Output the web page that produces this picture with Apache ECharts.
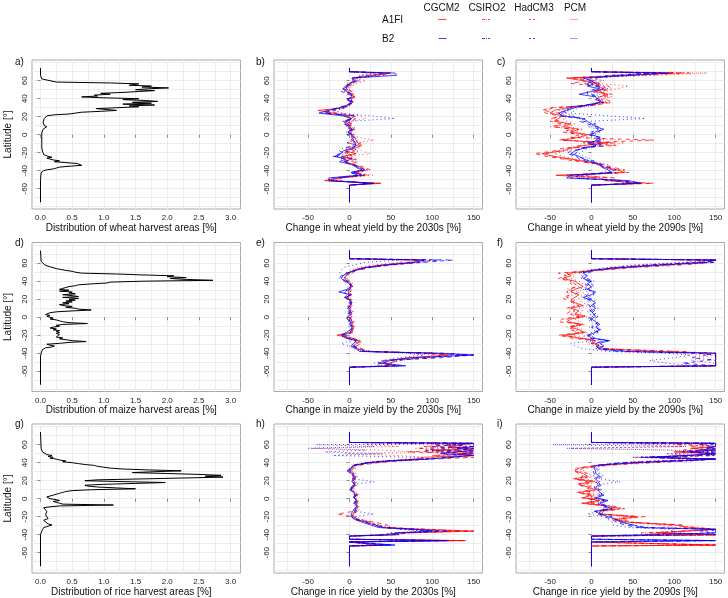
<!DOCTYPE html>
<html><head><meta charset="utf-8">
<script src="https://cdn.jsdelivr.net/npm/echarts@6/dist/echarts.min.js"></script>
<style>html,body{margin:0;padding:0;background:#fff}#c{width:728px;height:598px}</style>
</head><body><div id="c"></div>
<script>
// ---------- tick / grid values ----------
const latTicks = [-60, -40, -20, 0, 20, 40, 60];
const latGridLines = [-80, -70, -60, -50, -40, -30, -20, -10, 0, 10, 20, 30, 40, 50, 60, 70, 80];
const distTicks = [0, 0.5, 1, 1.5, 2, 2.5, 3];
const distGridLines = [0, 0.25, 0.5, 0.75, 1, 1.25, 1.5, 1.75, 2, 2.25, 2.5, 2.75, 3];
const chgTicks = [-50, 0, 50, 100, 150];
const chgGridLines = [-75, -50, -25, 0, 25, 50, 75, 100, 125, 150];

const models = ['CGCM2', 'CSIRO2', 'HadCM3', 'PCM'];
const scenarios = ['A1FI', 'B2'];

// ---------- harvest area distributions ----------
const latDistWheat = [74, 66, 62, 60, 58.5, 57.5, 56.5, 55, 54, 53, 52, 51, 50, 49, 48, 47, 46, 45, 44, 43, 42, 41, 40, 39, 38, 37, 36, 35, 34, 33, 32, 31, 30, 29, 28, 27, 26, 25, 24, 23, 22, 21, 20, 18, 16, 14, 12, 10, 9, 8, 7, 6, 4, 2, 0, -2, -4, -6, -8, -10, -12, -14, -16, -18, -20, -22, -23, -24, -25, -26, -27, -28, -29, -30, -31, -32, -33, -34, -35, -36, -37, -38, -39, -40, -41, -42, -44, -50, -60, -75];
const wheatDist = [0, 0, 0.02, 0.05, 0.25, 1.1, 1.55, 1.4, 1.75, 1.6, 2.02, 1.7, 1.5, 1.8, 1.55, 1.3, 0.95, 1.1, 0.85, 0.9, 0.65, 1.0, 1.55, 1.3, 1.65, 1.85, 1.45, 1.75, 1.3, 1.8, 1.4, 1.55, 1.2, 0.88, 1.05, 1.2, 0.95, 0.65, 0.55, 0.45, 0.2, 0.1, 0.08, 0.06, 0.05, 0.04, 0.05, 0.06, 0.1, 0.12, 0.07, 0.04, 0.03, 0.02, 0.02, 0.02, 0.02, 0.02, 0.02, 0.02, 0.02, 0.02, 0.03, 0.03, 0.03, 0.05, 0.08, 0.12, 0.18, 0.1, 0.15, 0.2, 0.3, 0.22, 0.4, 0.58, 0.55, 0.65, 0.45, 0.3, 0.25, 0.2, 0.1, 0.05, 0.02, 0.01, 0.01, 0, 0, 0];

const latDistMaize = [74, 62, 60, 58, 56, 54, 52, 51, 50, 49, 48, 47, 46, 45, 44, 43, 42, 41, 40, 39, 38, 37, 36, 35, 34, 33, 32, 31, 30, 29, 28, 27, 26, 25, 24, 23, 22, 21, 20, 19, 18, 17, 16, 15, 14, 13, 12, 11, 10, 9, 8, 7, 6, 5, 4, 3, 2, 1, 0, -1, -2, -3, -4, -5, -6, -7, -8, -9, -10, -11, -12, -13, -14, -15, -16, -17, -18, -19, -20, -21, -22, -23, -24, -25, -26, -27, -28, -29, -30, -31, -32, -33, -34, -35, -36, -38, -40, -44, -75];
const maizeDist = [0, 0.01, 0.03, 0.07, 0.15, 0.25, 0.4, 0.5, 0.55, 0.65, 1.2, 1.6, 2.1, 2.0, 2.3, 2.05, 2.3, 2.72, 1.6, 1.1, 1.05, 0.8, 0.6, 0.55, 0.45, 0.4, 0.35, 0.3, 0.45, 0.3, 0.5, 0.45, 0.55, 0.35, 0.5, 0.6, 0.35, 0.6, 0.45, 0.55, 0.4, 0.5, 0.35, 0.45, 0.3, 0.35, 0.5, 0.4, 0.55, 0.6, 0.8, 0.5, 0.25, 0.15, 0.12, 0.08, 0.15, 0.1, 0.15, 0.2, 0.15, 0.25, 0.3, 0.35, 0.45, 0.74, 0.35, 0.25, 0.3, 0.2, 0.15, 0.25, 0.2, 0.3, 0.25, 0.3, 0.25, 0.3, 0.28, 0.3, 0.25, 0.35, 0.3, 0.4, 0.5, 0.72, 0.45, 0.3, 0.1, 0.15, 0.22, 0.18, 0.08, 0.05, 0.03, 0.02, 0.01, 0, 0];

const latDistRice = [74, 56, 52, 50, 49, 48, 47, 46, 45, 44, 43, 42, 41, 40, 39, 38, 37, 36, 35, 34, 33, 32, 31, 30, 29, 28, 27, 26, 25, 24, 23, 22, 21, 20, 19, 18, 17, 16, 15, 14, 13, 12, 11, 10, 9, 8, 7, 6, 5, 4, 3, 2, 1, 0, -1, -2, -3, -4, -5, -6, -7, -8, -9, -10, -12, -14, -16, -18, -20, -22, -24, -26, -28, -29, -30, -31, -32, -34, -36, -38, -40, -75];
const riceDist = [0, 0.01, 0.03, 0.05, 0.1, 0.18, 0.12, 0.2, 0.15, 0.25, 0.3, 0.4, 0.35, 0.5, 0.6, 0.7, 0.85, 0.9, 1.0, 1.1, 1.3, 1.7, 2.22, 1.8, 1.45, 2.0, 2.5, 2.85, 2.6, 2.88, 2.9, 1.6, 0.9, 0.7, 1.3, 1.97, 1.5, 1.0, 0.7, 0.75, 0.9, 1.2, 1.5, 0.8, 0.5, 0.4, 0.35, 0.3, 0.25, 0.2, 0.15, 0.1, 0.08, 0.15, 0.25, 0.3, 0.2, 0.25, 0.3, 0.35, 1.15, 0.3, 0.15, 0.05, 0.08, 0.1, 0.12, 0.08, 0.1, 0.12, 0.05, 0.08, 0.12, 0.18, 0.15, 0.1, 0.05, 0.03, 0.02, 0.01, 0, 0];

// ---------- latitude grids of the yield-change profiles ----------
const latWheat = [74, 70, 68.5, 66, 63, 60, 57, 54, 51, 48, 45, 42, 39, 36, 33, 30, 27, 24, 21, 18, 15, 12, 9, 6, 3, 0, -3, -6, -9, -12, -15, -18, -21, -24, -27, -30, -33, -36, -39, -42, -45, -48, -51, -54, -56, -75];
const latMaize = [74, 65, 63.5, 61, 58, 55, 52, 49, 46, 43, 40, 37, 34, 31, 28, 25, 22, 19, 16, 13, 10, 7, 4, 1, -2, -5, -8, -11, -14, -17, -20, -23, -26, -29, -32, -35, -38, -40, -42, -45, -48, -51, -54, -55.5, -75];
const latRice = [74, 62.5, 61.5, 60, 58, 56, 54, 52, 50, 48, 46, 44, 42, 40, 37, 34, 31, 28, 25, 22, 19, 16, 13, 10, 7, 4, 1, -2, -5, -8, -11, -14, -17, -20, -23, -26, -29, -32, -34, -36, -38, -40, -41.5, -43, -45, -46.5, -48, -50, -51.5, -52.5, -75];

// ---------- wheat, 2030s ----------
const wheat30_A1FI_CGCM2 = [0, 0, 50, 30, 5, 8, 2, -3, -6, -2, 3, 5, -2, 4, -1, -6, -38, -20, -5, 3, -4, 2, -2, 4, 1, 3, 6, 8, 10, 15, 6, -5, 8, -8, 2, -6, 4, 12, 18, 6, 15, -12, -30, 38, 0, 0];
const wheat30_A1FI_CSIRO2 = [0, 0, 35, 45, 8, 12, -4, 2, -8, 0, 5, 2, 4, 1, 3, -10, -25, -30, 2, 8, 2, -6, 3, 6, -3, 5, 4, 2, 14, 8, -5, 10, -4, 5, -10, 8, 2, 15, 22, 10, 20, -8, -22, 30, 0, 0];
const wheat30_A1FI_HadCM3 = [0, 0, 45, 20, 2, 6, 5, -2, -4, 3, -3, 6, 0, 6, -4, -8, -32, -15, 8, 0, -6, 5, -4, 2, 4, -2, 8, 5, -2, 12, 10, 4, -6, -10, 8, -4, 6, 18, 25, 4, 22, -15, -28, 35, 0, 0];
const wheat30_A1FI_PCM = [0, 0, 30, 15, 10, 20, 8, 4, -2, 5, 2, 8, 3, 2, 0, -4, -20, -10, 12, 20, 3, -2, 5, 8, 2, 6, 10, 30, 8, 6, 12, 15, 25, -5, 10, 4, 8, 10, 15, 8, 28, -10, -18, 25, 0, 0];
const wheat30_B2_CGCM2 = [0, 0, 55, 57, 4, 6, 0, -5, -8, -4, 2, 3, -3, 2, -3, -12, -25, -37, -8, 2, -5, -2, 0, 3, -2, 2, 3, 5, 6, 8, 2, -8, -10, -18, -5, -12, 2, 8, 15, 2, 10, -25, -25, 30, 0, 0];
const wheat30_B2_CSIRO2 = [0, 0, 40, 35, 6, 10, -2, -3, -5, -6, 4, 1, 2, 3, 1, -8, -18, -28, 4, 6, -3, -8, 2, 5, -4, 4, 2, 4, 8, 5, -8, -12, -6, -15, -8, -5, 5, 10, 18, 6, 14, -18, -20, 25, 0, 0];
const wheat30_B2_HadCM3 = [0, 0, 48, 25, 3, 4, 3, -6, -3, -10, 0, 4, -5, 5, -2, -15, -22, -30, 6, 4, -8, 0, -5, 1, 2, -3, 5, 2, -3, 10, 4, 0, -12, -20, 3, -8, 3, 12, 20, 0, 16, -20, -24, 28, 0, 0];
const wheat30_B2_PCM = [0, 0, 28, 12, 8, 14, 5, 0, -4, 2, 1, 6, 1, 4, -1, -6, -15, -12, 25, 55, 2, -4, 3, 6, 0, 5, 6, 10, 5, 4, 5, 10, 8, -10, 6, 10, 6, 8, 12, 5, 20, -12, -15, 20, 0, 0];

// ---------- wheat, 2090s ----------
const wheat90_A1FI_CGCM2 = [0, 0, 100, 40, -30, -10, 10, 5, 15, 5, 20, 10, 5, 15, -5, -30, -45, -50, -35, -40, -45, -25, -35, -15, -25, -5, -15, -35, 20, -10, -25, -35, -60, -45, -25, -5, 10, 15, 30, 40, -43, 10, 20, 60, 0, 0];
const wheat90_A1FI_CSIRO2 = [0, 0, 120, 60, -20, 5, -5, 20, 25, 10, 15, 20, 12, 20, 0, -45, -58, -40, -30, -50, -38, -30, -50, -20, -30, -10, -20, -40, 30, -15, -30, -40, -55, -50, -30, -10, 5, 20, 35, 45, -30, 20, 15, 70, 0, 0];
const wheat90_A1FI_HadCM3 = [0, 0, 110, 30, -25, -5, -25, 10, 20, 0, 25, 15, 18, 25, 5, -50, -60, -55, -40, -45, -50, -35, -45, -25, -35, -15, -25, 75, -10, 30, -35, -45, -69, -55, -35, -15, 15, 25, 40, 35, -20, 30, 25, 75, 0, 0];
const wheat90_A1FI_PCM = [0, 0, 140, 80, -10, 15, 5, 45, 30, 15, 10, 25, 8, 18, 8, -25, -40, -30, -20, -35, -30, -20, -30, -10, -20, 0, -10, 30, 40, 20, -20, -30, -45, -35, -20, 0, 20, 18, 25, 30, -10, 25, 30, 50, 0, 0];
const wheat90_B2_CGCM2 = [0, 0, 93, 50, -10, 0, 5, -5, 10, 0, -15, 5, 8, 10, -5, -20, -30, -40, -35, -10, -5, 0, 5, 15, 5, 0, 10, 10, -5, 5, -10, -20, -25, -15, -10, 0, 10, 12, 20, 25, -25, -30, 45, 60, 0, 0];
const wheat90_B2_CSIRO2 = [0, 0, 70, 40, 5, 8, -10, 5, 15, 5, 0, 10, 5, 15, 0, -25, -35, -30, -25, -15, -10, 5, 0, 10, 0, 5, 5, 15, 0, 10, -15, -15, -20, -20, -5, 5, 8, 15, 25, 30, -15, -20, 35, 50, 0, 0];
const wheat90_B2_HadCM3 = [0, 0, 80, 25, 0, -5, 0, 10, 5, -5, -5, 8, 10, 12, -8, -30, -28, -35, -40, -8, -15, -5, 8, 12, 8, -5, 12, 5, 5, 15, -8, -25, -30, -18, -15, -5, 12, 20, 30, 20, -30, -25, 40, 55, 0, 0];
const wheat90_B2_PCM = [0, 0, 60, 20, 8, 12, 5, 15, 20, 10, 5, 12, 8, 10, 2, -15, -20, -25, 20, 65, 0, 5, -5, 8, 10, 2, 8, 12, 10, 8, -5, -10, -15, -10, 0, 5, 15, 18, 22, 15, -10, -15, 30, 45, 0, 0];

// ---------- maize, 2030s ----------
const maize30_A1FI_CGCM2 = [0, 0, 90, 75, 40, 15, 5, 0, -4, -6, -3, 2, 3, 0, -2, 3, -4, 2, 1, 3, 0, 2, -1, 3, 0, 4, 2, 5, 3, 0, -15, 3, 12, 8, 5, 10, 15, 100, 120, 70, 50, 40, 55, 0, 0];
const maize30_A1FI_CSIRO2 = [0, 0, 100, 80, 50, 25, 8, 3, -2, -3, 0, 5, 1, 2, 1, 0, -2, 4, 3, 1, 2, 0, 3, 1, 2, 2, 4, 3, 6, 2, -8, 0, 15, 10, 3, 12, 20, 120, 150, 80, 60, 45, 65, 0, 0];
const maize30_A1FI_HadCM3 = [0, 0, 85, 70, 35, 20, 10, -2, -6, -8, -5, 0, 5, 3, 0, -3, -6, 0, 2, -2, 3, 5, 0, -2, 3, 6, 0, 8, 2, 5, -12, -3, 10, 15, 8, 15, 25, 90, 110, 100, 40, 35, 50, 0, 0];
const maize30_A1FI_PCM = [0, 0, 70, 60, 30, 10, 2, -5, -8, -4, -2, 3, 0, -2, 2, 1, 0, 3, 0, 2, -2, 1, 2, 0, -3, 1, 3, 0, 4, 3, -5, 2, 8, 5, 0, 8, 30, 80, 100, 90, 60, 50, 45, 0, 0];
const maize30_B2_CGCM2 = [0, 0, 90, 80, 45, 18, 6, -3, -8, -10, -5, 0, 2, -3, -13, 2, -5, 0, 3, 0, -2, 1, 2, -2, -3, 2, 0, 3, 1, -4, -10, -5, 8, 5, 2, 8, 12, 110, 150, 75, 45, 35, 68, 0, 0];
const maize30_B2_CSIRO2 = [0, 0, 110, 85, 40, 20, 4, 0, -5, -7, -2, 2, 0, 1, -5, 0, -3, 2, 0, 2, 1, -1, 0, 2, -1, 0, 3, 1, 4, 0, -6, -2, 10, 6, 4, 10, 18, 100, 140, 90, 55, 50, 60, 0, 0];
const maize30_B2_HadCM3 = [0, 0, 125, 90, 50, 22, 8, -4, -10, -12, -6, -2, 4, 0, -8, -2, -6, 1, 2, -3, 0, 3, -2, 0, 2, 3, 1, 4, 0, 2, -8, -4, 6, 10, 6, 12, 22, 95, 150, 110, 50, 40, 55, 0, 0];
const maize30_B2_PCM = [0, 0, 60, 20, 5, -8, -10, -12, -8, -5, -3, 1, -2, -4, -3, 0, -2, 2, -1, 1, -3, 0, 1, -2, -4, 0, 2, -1, 3, 1, -4, -2, 4, -10, -2, 5, 25, 70, 90, 60, 40, 30, 40, 0, 0];

// ---------- maize, 2090s ----------
const maize90_A1FI_CGCM2 = [0, 0, 150, 140, 90, 40, 5, -30, -25, -35, -20, -15, -10, -20, -25, -15, -20, -25, -20, -10, -25, -15, -20, -8, -25, -30, -12, -25, -15, -8, -35, -15, 5, 2, 10, 15, 80, 150, 150, 150, 150, 150, 150, 0, 0];
const maize90_A1FI_CSIRO2 = [0, 0, 150, 150, 110, 50, 10, -20, -35, -30, -25, -20, -15, -30, -15, -20, -30, -20, -25, -15, -30, -20, -25, -10, -30, -25, -15, -30, -20, -10, -30, -20, 8, 5, 12, 18, 100, 150, 150, 150, 150, 150, 150, 0, 0];
const maize90_A1FI_HadCM3 = [0, 0, 150, 130, 70, 30, 0, -40, -30, -40, -25, -25, -20, -25, -30, -25, -35, -30, -20, -20, -25, -25, -30, -15, -35, -40, -10, -25, -25, -15, -40, -25, 2, 0, 8, 12, 110, 110, 150, 150, 150, 150, 150, 0, 0];
const maize90_A1FI_PCM = [0, 0, 150, 120, 60, 25, -5, -25, -20, -25, -15, -10, -5, -15, -10, -10, -15, -15, -10, -5, -15, -10, -15, -5, -20, -15, -8, -20, -10, -5, -25, -10, 0, -5, 5, 10, 60, 100, 150, 130, 120, 150, 150, 0, 0];
const maize90_B2_CGCM2 = [0, 0, 150, 140, 80, 30, 0, -10, -5, -10, 0, -5, 0, -5, 5, 0, -10, 0, 5, 0, 5, 0, 2, 5, 0, 5, 10, 5, 10, 5, -5, 0, 22, 10, 15, 8, 40, 150, 150, 150, 150, 150, 150, 0, 0];
const maize90_B2_CSIRO2 = [0, 0, 150, 130, 70, 25, 5, -5, -8, -5, 3, 0, 3, -8, 2, 3, -5, 4, 2, 3, 8, 3, 0, 8, 3, 8, 5, 8, 6, 8, 0, 3, 18, 5, 10, 5, 30, 150, 150, 120, 150, 150, 150, 0, 0];
const maize90_B2_HadCM3 = [0, 0, 150, 150, 90, 35, -2, -12, -10, -12, -3, -8, -2, -3, 0, -5, -8, -3, 0, -3, 2, -2, 5, 0, -2, 2, 8, 0, 12, 2, -3, -5, 20, 0, 5, 12, 50, 130, 150, 150, 140, 110, 150, 0, 0];
const maize90_B2_PCM = [0, 0, 140, 110, 50, 15, -5, -15, -12, -8, -5, -3, -5, -10, -5, -8, -12, -5, -3, -5, 0, -5, -3, 2, -5, 0, 3, -3, 5, 0, -8, -10, 5, -25, -20, -10, 20, 90, 120, 100, 70, 90, 130, 0, 0];

// ---------- rice, 2030s ----------
const rice30_A1FI_CGCM2 = [0, 0, 150, 150, 120, 150, 100, 150, 130, 150, 90, 80, 45, 20, 5, 3, 0, 4, 6, 5, 4, 7, 3, 2, 6, 8, 5, 9, 7, 10, 8, 6, 5, 3, 8, 20, 30, 40, 90, 150, 60, 40, 0, 0, 0, 140, 0, 0, 40, 0, 0];
const rice30_A1FI_CSIRO2 = [0, 0, 150, 100, 150, 80, 150, 90, 150, 110, 100, 95, 55, 30, 8, 5, 2, 6, 8, 7, 6, 9, 5, 4, 8, 10, 7, 11, 9, 12, 10, 8, 7, 5, 10, 25, 35, 45, 100, 130, 70, 50, 0, 0, 0, 120, 0, 0, 30, 0, 0];
const rice30_A1FI_HadCM3 = [0, 0, 150, 150, 90, 150, 130, 70, 150, 100, 150, 100, 60, 35, 10, 2, -2, 3, 5, 4, 5, 6, 4, 0, 5, 7, 4, 8, 6, 9, 7, 5, -15, 4, 12, 30, 45, 50, 80, 150, 65, 55, 0, 0, 0, 140, 0, 0, 45, 0, 0];
const rice30_A1FI_PCM = [0, 0, 150, 20, 60, -45, 40, 80, -5, 60, 90, 70, 40, 25, 6, 8, 1, 8, 10, 6, 8, 10, 6, 5, 9, 12, 8, 10, 10, 8, 12, 10, 3, 8, 15, 28, 35, 55, 60, 100, 50, 45, 0, 0, 0, 100, 0, 0, 25, 0, 0];
const rice30_B2_CGCM2 = [0, 0, 150, 150, 150, 130, 150, 150, 110, 150, 150, 95, 50, 25, 4, 2, -3, 2, 5, 4, 3, 6, 2, 1, 5, 7, 6, 8, 6, 9, 6, 4, 2, 2, 6, 15, 25, 35, 80, 100, 55, 60, 0, 0, 0, 120, 0, 0, 55, 0, 0];
const rice30_B2_CSIRO2 = [0, 0, 150, 120, 150, 150, 90, 150, 150, 130, 120, 85, 40, 18, 3, 4, 0, 5, 7, 6, 5, 8, 4, 3, 7, 9, 5, 10, 8, 11, 9, 7, 4, 5, 9, 18, 28, 40, 70, 110, 60, 45, 0, 0, 0, 110, 0, 0, 50, 0, 0];
const rice30_B2_HadCM3 = [0, 0, 150, 150, 100, 150, 150, 110, 150, 150, 130, 90, 55, 22, 6, 1, -1, 4, 4, 3, 6, 5, 3, 2, 4, 6, 5, 7, 5, 8, 8, 6, 3, 3, 7, 22, 32, 42, 75, 120, 65, 50, 0, 0, 0, 115, 0, 0, 52, 0, 0];
const rice30_B2_PCM = [0, 0, 150, -40, 30, -50, 20, -30, 40, -20, 80, 95, 45, 20, 5, 6, 2, 5, 8, 5, 30, 7, 5, 3, 6, 8, 7, 9, 6, 7, 10, 8, 30, 5, 10, 20, 30, 45, 60, 95, 50, 40, 0, 0, 0, 90, 0, 0, 35, 0, 0];

// ---------- rice, 2090s ----------
const rice90_A1FI_CGCM2 = [0, 0, 150, 150, 150, 120, 150, 100, 150, 150, 70, 150, 100, 60, 10, -15, -20, -10, -5, -20, 0, -15, -5, 5, -15, 0, -10, 10, -10, 20, 35, 10, 10, 55, 30, 45, 100, 120, 150, 150, 80, 150, 0, 0, 0, 0, 0, 0, 150, 0, 0];
const rice90_A1FI_CSIRO2 = [0, 0, 150, 100, 150, 150, 110, 150, 130, 150, 60, 150, 120, 75, 20, -10, -15, -5, 0, -15, 5, -10, 0, 10, -10, 5, -5, 15, -5, 25, 40, 15, 12, 65, 35, 50, 90, 130, 150, 150, 60, 150, 0, 0, 0, 0, 0, 0, 150, 0, 0];
const rice90_A1FI_HadCM3 = [0, 0, 150, 150, 120, 150, 150, 120, 150, 130, 80, 150, 90, 55, 5, -18, -22, -15, -10, -22, -5, -18, -8, 0, -18, -3, -12, 8, -12, 15, 30, 5, 8, 50, 25, 40, 110, 110, 150, 150, 70, 150, 0, 0, 0, 0, 0, 0, 150, 0, 0];
const rice90_A1FI_PCM = [0, 0, 150, 60, 110, -25, 90, 130, 100, 120, 50, 130, 80, 45, 15, -5, -10, -5, 5, -10, 10, -5, 5, 12, -5, 8, 0, 20, 0, 18, 25, 12, 15, 40, 25, 35, 80, 100, 140, 120, 90, 150, 0, 0, 0, 0, 0, 0, 120, 0, 0];
const rice90_B2_CGCM2 = [0, 0, 150, 150, 150, 140, 150, 120, 150, 150, 75, 150, 110, 50, 5, 3, 5, 5, 10, 5, 8, 10, 5, 8, 10, 15, 5, 20, 10, 15, 25, 5, 10, 20, 30, 35, 50, 60, 150, 150, 150, 150, 0, 0, 0, 150, 0, 0, 0, 0, 0];
const rice90_B2_CSIRO2 = [0, 0, 150, 130, 150, 150, 130, 150, 140, 150, 60, 150, 100, 40, 8, 5, 8, 8, 12, 8, 10, 12, 8, 10, 12, 12, 8, 18, 12, 18, 22, 8, 12, 25, 28, 40, 45, 70, 150, 130, 150, 150, 0, 0, 0, 150, 0, 0, 0, 0, 0];
const rice90_B2_HadCM3 = [0, 0, 150, 150, 140, 150, 150, 110, 150, 130, 65, 150, 90, 35, 3, 0, 2, 3, 8, 3, 5, 8, 3, 6, 8, 10, 3, 15, 8, 12, 20, 3, 8, 15, 25, 30, 40, 55, 150, 150, 140, 150, 0, 0, 0, 150, 0, 0, 0, 0, 0];
const rice90_B2_PCM = [0, 0, 150, -47, 115, -30, 100, 150, 90, 120, 50, 150, 70, 30, 10, 8, 10, 10, 15, 10, 35, 12, 10, 12, 15, 12, 10, 15, 10, 12, 15, 10, -5, 15, 20, 25, 25, 45, 100, 95, 110, 150, 0, 0, 0, 120, 0, 0, 0, 0, 0];

// ---------- layout & style ----------
const FONT = 'Liberation Sans, Arial, Helvetica, sans-serif';
const colLeft = [32, 274, 516];
const rowTop = [60, 242.5, 424];
const GW = 208.5, GH = 149;
const scenColor = { A1FI: 'rgba(255,0,0,0.75)', B2: 'rgba(0,0,255,0.75)' };
const modelDash = { CGCM2: 'solid', CSIRO2: [1, 3, 4, 3], HadCM3: [4, 4], PCM: [1, 3] };
const legendDash = { CGCM2: null, CSIRO2: [3, 1, 1, 1], HadCM3: [2, 2], PCM: [1, 1] };

const panels = [
  { letter: 'a)', kind: 'dist', lat: latDistWheat, vals: wheatDist, title: 'Distribution of wheat harvest areas [%]' },
  { letter: 'b)', kind: 'chg', lat: latWheat, title: 'Change in wheat yield by the 2030s [%]',
    sets: [wheat30_A1FI_CGCM2, wheat30_A1FI_CSIRO2, wheat30_A1FI_HadCM3, wheat30_A1FI_PCM, wheat30_B2_CGCM2, wheat30_B2_CSIRO2, wheat30_B2_HadCM3, wheat30_B2_PCM] },
  { letter: 'c)', kind: 'chg', lat: latWheat, title: 'Change in wheat yield by the 2090s [%]',
    sets: [wheat90_A1FI_CGCM2, wheat90_A1FI_CSIRO2, wheat90_A1FI_HadCM3, wheat90_A1FI_PCM, wheat90_B2_CGCM2, wheat90_B2_CSIRO2, wheat90_B2_HadCM3, wheat90_B2_PCM] },
  { letter: 'd)', kind: 'dist', lat: latDistMaize, vals: maizeDist, title: 'Distribution of maize harvest areas [%]' },
  { letter: 'e)', kind: 'chg', lat: latMaize, title: 'Change in maize yield by the 2030s [%]',
    sets: [maize30_A1FI_CGCM2, maize30_A1FI_CSIRO2, maize30_A1FI_HadCM3, maize30_A1FI_PCM, maize30_B2_CGCM2, maize30_B2_CSIRO2, maize30_B2_HadCM3, maize30_B2_PCM] },
  { letter: 'f)', kind: 'chg', lat: latMaize, title: 'Change in maize yield by the 2090s [%]',
    sets: [maize90_A1FI_CGCM2, maize90_A1FI_CSIRO2, maize90_A1FI_HadCM3, maize90_A1FI_PCM, maize90_B2_CGCM2, maize90_B2_CSIRO2, maize90_B2_HadCM3, maize90_B2_PCM] },
  { letter: 'g)', kind: 'dist', lat: latDistRice, vals: riceDist, title: 'Distribution of rice harvest areas [%]' },
  { letter: 'h)', kind: 'chg', lat: latRice, title: 'Change in rice yield by the 2030s [%]',
    sets: [rice30_A1FI_CGCM2, rice30_A1FI_CSIRO2, rice30_A1FI_HadCM3, rice30_A1FI_PCM, rice30_B2_CGCM2, rice30_B2_CSIRO2, rice30_B2_HadCM3, rice30_B2_PCM] },
  { letter: 'i)', kind: 'chg', lat: latRice, title: 'Change in rice yield by the 2090s [%]',
    sets: [rice90_A1FI_CGCM2, rice90_A1FI_CSIRO2, rice90_A1FI_HadCM3, rice90_A1FI_PCM, rice90_B2_CGCM2, rice90_B2_CSIRO2, rice90_B2_HadCM3, rice90_B2_PCM] }
];

const grids = [], xAxes = [], yAxes = [], series = [], graphics = [];
const pairs = (lat, vals) => vals.map((v, i) => [v, lat[i]]);

panels.forEach((p, gi) => {
  const col = gi % 3, row = Math.floor(gi / 3);
  const isDist = p.kind === 'dist';
  grids.push({ left: colLeft[col], top: rowTop[row], width: GW, height: GH, show: true,
    borderColor: '#a8a8a8', borderWidth: 1, backgroundColor: 'transparent',
    containLabel: false, outerBoundsMode: 'none' });
  const xt = isDist ? distTicks : chgTicks;
  xAxes.push({ type: 'value', gridIndex: gi, position: 'bottom',
    min: isDist ? -0.1341 : -91.25, max: isDist ? 3.1559 : 160.75,
    axisLine: { show: false }, splitLine: { show: false },
    axisTick: { show: true, length: 3, customValues: xt, lineStyle: { color: '#888' } },
    axisLabel: { customValues: xt, fontSize: 8, fontFamily: FONT, color: '#222', margin: 5,
      formatter: v => isDist ? v.toFixed(1) : String(v) },
    name: p.title, nameLocation: 'middle', nameGap: 12.5,
    nameTextStyle: { fontSize: 10, fontFamily: FONT, color: '#111', padding: [0, 10, 0, 0] } });
  const yax = { type: 'value', gridIndex: gi, min: -82.5, max: 83,
    axisLine: { show: false }, splitLine: { show: false },
    axisTick: { show: true, length: 3, customValues: latTicks, lineStyle: { color: '#888' } },
    axisLabel: { customValues: latTicks, rotate: 90, fontSize: 8, fontFamily: FONT, color: '#222', margin: 3 } };
  if (col === 0) {
    yax.name = 'Latitude [°]'; yax.nameLocation = 'middle'; yax.nameGap = 19; yax.nameRotate = 90;
    yax.nameTextStyle = { fontSize: 10, fontFamily: FONT, color: '#111' };
  }
  yAxes.push(yax);

  // background grid lines (through the axis scales), kept below the data
  const gl = isDist ? distGridLines : chgGridLines;
  series.push({ type: 'line', xAxisIndex: gi, yAxisIndex: gi, data: [], z: 0, silent: true, animation: false,
    markLine: { z: 0, silent: true, symbol: 'none', animation: false, label: { show: false },
      lineStyle: { color: '#ececec', type: 'solid', width: 1 },
      data: latGridLines.map(v => ({ yAxis: v })).concat(gl.map(v => ({ xAxis: v }))) } });

  if (isDist) {
    series.push({ type: 'line', xAxisIndex: gi, yAxisIndex: gi, data: pairs(p.lat, p.vals),
      showSymbol: false, symbol: 'none', silent: true, animation: false, z: 3,
      lineStyle: { color: '#000', width: 1 } });
  } else {
    p.sets.forEach((vals, k) => {
      const sc = scenarios[Math.floor(k / 4)], m = models[k % 4];
      series.push({ type: 'line', name: m + ' ' + sc, xAxisIndex: gi, yAxisIndex: gi,
        data: pairs(p.lat, vals), showSymbol: false, symbol: 'none', silent: true, animation: false, z: 3,
        lineStyle: { color: scenColor[sc], width: 1, type: modelDash[m] } });
    });
  }

  const lx = [15, 256, 497][col], ly = [57.5, 238.5, 419.5][row];
  graphics.push({ type: 'text', x: lx, y: ly, silent: true,
    style: { text: p.letter, font: '10px ' + FONT, fill: '#111', align: 'left', verticalAlign: 'top',
      textAlign: 'left', textVerticalAlign: 'top' } });
});

// legend (top)
const legCenters = [441.5, 487, 534, 575];
const sampleCenters = [442.5, 486, 533, 574.5];
models.forEach((m, i) => {
  graphics.push({ type: 'text', x: legCenters[i], y: 8, silent: true,
    style: { text: m, font: '10px ' + FONT, fill: '#111', align: 'center', verticalAlign: 'middle',
      textAlign: 'center', textVerticalAlign: 'middle' } });
  scenarios.forEach((s, j) => {
    const y = j === 0 ? 19.5 : 38.5;
    graphics.push({ type: 'line', silent: true,
      shape: { x1: sampleCenters[i] - 4, y1: y, x2: sampleCenters[i] + 4, y2: y },
      style: { stroke: scenColor[s], lineWidth: 1, lineDash: legendDash[m] } });
  });
});
scenarios.forEach((s, j) => {
  graphics.push({ type: 'text', x: 382, y: j === 0 ? 20 : 39, silent: true,
    style: { text: s, font: '10px ' + FONT, fill: '#111', align: 'left', verticalAlign: 'middle',
      textAlign: 'left', textVerticalAlign: 'middle' } });
});

const chart = echarts.init(document.getElementById('c'), null, { renderer: 'canvas', width: 728, height: 598 });
chart.setOption({
  animation: false,
  backgroundColor: '#ffffff',
  textStyle: { fontFamily: FONT },
  grid: grids, xAxis: xAxes, yAxis: yAxes, series: series, graphic: graphics
});
</script></body></html>
